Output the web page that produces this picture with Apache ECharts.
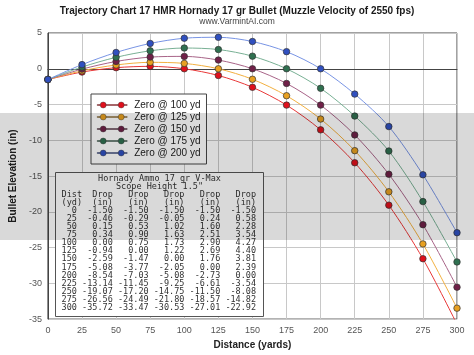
<!DOCTYPE html>
<html>
<head>
<meta charset="utf-8">
<script src="https://cdn.jsdelivr.net/npm/echarts@6/dist/echarts.min.js"></script>
<style>
html,body{margin:0;padding:0;background:#fff;}
#chart{width:474px;height:355px;}
</style>
</head>
<body>
<div id="chart"></div>
<script>
// ---- data ----
const distances = [0, 25, 50, 75, 100, 125, 150, 175, 200, 225, 250, 275, 300];
const seriesNames = ['Zero @ 100 yd', 'Zero @ 125 yd', 'Zero @ 150 yd', 'Zero @ 175 yd', 'Zero @ 200 yd'];
const zero100 = [-1.50, -0.46, 0.15, 0.34, 0.00, -0.94, -2.59, -5.08, -8.54, -13.14, -19.07, -26.56, -35.72];
const zero125 = [-1.50, -0.29, 0.53, 0.90, 0.75, 0.00, -1.47, -3.77, -7.03, -11.45, -17.20, -24.49, -33.47];
const zero150 = [-1.50, -0.05, 1.02, 1.63, 1.73, 1.22, 0.00, -2.05, -5.08, -9.25, -14.75, -21.80, -30.53];
const zero175 = [-1.50, 0.24, 1.60, 2.51, 2.90, 2.69, 1.76, 0.00, -2.73, -6.61, -11.50, -18.57, -27.01];
const zero200 = [-1.50, 0.58, 2.28, 3.54, 4.27, 4.40, 3.81, 2.39, 0.00, -3.54, -8.08, -14.82, -22.92];
const tableTitle = ['Hornady Ammo 17 gr V-Max', 'Scope Height 1.5"'];

// ---- styles ----
const lineColors = ['#e83838', '#f2b040', '#a86488', '#78b094', '#7894e4'];
const markColors = ['#e0101c', '#e8a020', '#702048', '#2f7050', '#3050c0'];
const allSeries = [zero100, zero125, zero150, zero175, zero200];

const chart = echarts.init(document.getElementById('chart'), null, {renderer: 'canvas'});

const series = allSeries.map((vals, i) => ({
  name: seriesNames[i],
  type: 'line',
  smooth: 0.3,
  data: distances.map((d, j) => [d, vals[j]]),
  symbol: 'circle',
  symbolSize: 6.5,
  lineStyle: {color: lineColors[i], width: 1},
  itemStyle: {color: markColors[i], borderColor: '#333', borderWidth: 0.7},
  emphasis: {disabled: true},
  z: 2 + i
}));

// table text built from the data arrays
const pad = (s, n) => String(s).padStart(n, ' ');
const tableLines = [];
tableLines.push(' Dist' + pad('Drop', 6) + [1,2,3,4].map(() => pad('Drop', 7)).join(''));
tableLines.push(' (yd)' + pad('(in)', 6) + [1,2,3,4].map(() => pad('(in)', 7)).join(''));
distances.forEach((d, j) => {
  tableLines.push(pad(d, 4) + allSeries.map(s => pad(s[j].toFixed(2), 7)).join(''));
});

const legendIcon = 'path://M0,3.6h3v0.8h-3z M9,3.6h12v0.8h-12z M27,3.6h3v0.8h-3z M3,4a3,3 0 1,1 6,0a3,3 0 1,1 -6,0z M21,4a3,3 0 1,1 6,0a3,3 0 1,1 -6,0z';

chart.setOption({
  animation: false,
  backgroundColor: '#fff',
  title: [{
    text: 'Trajectory Chart 17 HMR Hornady 17 gr Bullet (Muzzle Velocity of 2550 fps)',
    left: 'center', top: 1,
    textStyle: {fontFamily: 'Liberation Sans, Arial', fontSize: 10, fontWeight: 'bold', color: '#1a1a1a'}
  }, {
    text: 'www.VarmintAI.com',
    left: 'center', top: 12,
    textStyle: {fontFamily: 'Liberation Sans, Arial', fontSize: 8.5, fontWeight: 'normal', color: '#444'}
  }],
  legend: {
    orient: 'vertical', left: 91, top: 94,
    backgroundColor: '#fff', borderColor: '#444', borderWidth: 1,
    padding: [6, 6, 6, 6],
    itemWidth: 30, itemHeight: 8, itemGap: 2,
    icon: legendIcon,
    textStyle: {fontFamily: 'Liberation Sans, Arial', fontSize: 10, color: '#222', padding: [0,0,0,2]},
    data: seriesNames.map((n, i) => ({name: n, icon: legendIcon,
      itemStyle: {color: markColors[i], borderColor: '#333', borderWidth: 0.4, opacity: 1}}))
  },
  grid: {left: 34, right: 17, top: 33, bottom: 32, show: true, borderColor: '#444', borderWidth: 1, backgroundColor: 'transparent'},
  xAxis: {
    type: 'value', min: 0, max: 300, interval: 25,
    name: 'Distance (yards)', nameLocation: 'middle', nameGap: 17,
    nameTextStyle: {fontFamily: 'Liberation Sans, Arial', fontSize: 10, fontWeight: 'bold', color: '#222'},
    axisLine: {show: true, lineStyle: {color: '#444'}},
    axisTick: {show: false},
    axisLabel: {fontFamily: 'Liberation Sans, Arial', fontSize: 9, color: '#555', margin: 7},
    splitLine: {show: true, lineStyle: {color: '#c8c8c8', width: 1}}
  },
  yAxis: {
    type: 'value', min: -35, max: 5, interval: 5,
    name: 'Bullet Elevation (in)', nameLocation: 'middle', nameGap: 21, nameRotate: 90,
    nameTextStyle: {fontFamily: 'Liberation Sans, Arial', fontSize: 10, fontWeight: 'bold', color: '#222'},
    axisLine: {show: true, lineStyle: {color: '#444'}},
    axisTick: {show: false},
    axisLabel: {fontFamily: 'Liberation Sans, Arial', fontSize: 9, color: '#555', margin: 6},
    splitLine: {show: true, lineStyle: {color: '#c8c8c8', width: 1}}
  },
  graphic: [
    {type: 'rect', z: 50, shape: {x: 55.5, y: 172.5, width: 208, height: 144},
     style: {fill: '#fff', stroke: '#555', lineWidth: 1}},
    {type: 'text', z: 51, x: 159.5, y: 174.5,
     style: {text: tableTitle.join('\n'), font: '8.5px "DejaVu Sans Mono", monospace', lineHeight: 8.1,
             fill: '#333', textAlign: 'center', textVerticalAlign: 'top'}},
    {type: 'text', z: 51, x: 56.5, y: 190.7,
     style: {text: tableLines.join('\n'), font: '8.5px "DejaVu Sans Mono", monospace', lineHeight: 8.07,
             fill: '#333', textAlign: 'left', textVerticalAlign: 'top'}},
    {type: 'rect', z: 100, silent: true, shape: {x: 0, y: 113, width: 474, height: 127},
     style: {fill: 'rgba(0,0,0,0.15)'}}
  ],
  series: series
});
</script>
</body>
</html>
